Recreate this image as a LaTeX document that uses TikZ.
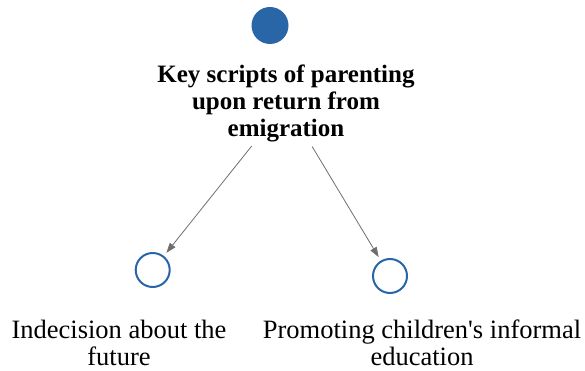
\documentclass[tikz,border=0pt]{standalone}
\usepackage{fontspec}
\setmainfont{Liberation Serif}
\newfontfamily\labelserif{Liberation Serif}
\usetikzlibrary{arrows.meta}
\definecolor{nodeblue}{HTML}{2966A8}
\definecolor{edgegray}{HTML}{6E6E6E}
\tikzset{
  rootdot/.style={circle, fill=nodeblue, draw=none, inner sep=0pt, minimum size=37pt},
  leafdot/.style={circle, draw=nodeblue, line width=2pt, fill=white, inner sep=0pt, minimum size=34pt},
  titletext/.style={align=center, inner sep=0pt, font=\labelserif\fontsize{25}{27}\selectfont\bfseries},
  leaftext/.style={align=center, inner sep=0pt, font=\labelserif\fontsize{26.5}{27}\selectfont},
  link/.style={draw=edgegray, line width=0.8pt, -{Triangle[length=10pt,width=7pt]}, shorten <=5.5pt, shorten >=4pt}
}
\begin{document}
\begin{tikzpicture}[x=1pt,y=-1pt]
\useasboundingbox (0,0) rectangle (585,371);
\node[rootdot] (root) at (270,25.5) {};
\node[titletext] (title) at (286,103) {Key scripts of parenting\\upon return from\\emigration};
\node[leafdot] (c1) at (152.7,270) {};
\node[leafdot] (c2) at (390,276) {};
\node[leaftext] (l1) at (119,342.8) {Indecision about the\\future};
\node[leaftext] (l2) at (422,342.8) {Promoting children\textquotesingle s informal\\education};
\draw[link] (title) -- (c1);
\draw[link] (title) -- (c2);
\end{tikzpicture}
\end{document}
